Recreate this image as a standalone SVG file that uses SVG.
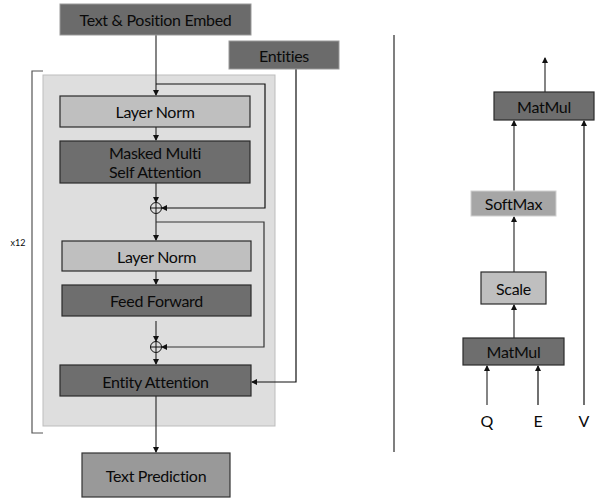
<svg xmlns="http://www.w3.org/2000/svg" width="595" height="499" viewBox="0 0 595 499">
<defs>
<marker id="ah" markerWidth="6" markerHeight="6" refX="5" refY="3" orient="auto" markerUnits="userSpaceOnUse">
<path d="M0,0 L6,3 L0,6 Z" fill="#111"/>
</marker>
<style>
text{font-family:Lato,"Open Sans","Liberation Sans",sans-serif;fill:#0a0a0a;text-anchor:middle;dominant-baseline:central}
.t{font-size:16px;letter-spacing:-0.3px}
.dark{fill:#6e6e6e;stroke:#2a2a2a;stroke-width:1.2}
.light{fill:#bfbfbf;stroke:#2a2a2a;stroke-width:1.2}
.edge{fill:none;stroke:#333;stroke-width:1.2}
.k{fill:none;stroke:#111;stroke-width:1.2}
</style>
</defs>
<rect x="0" y="0" width="595" height="499" fill="#fff"/>
<g id="panel">
<rect x="43" y="75" width="232" height="351" fill="#dedede" stroke="#bdbdbd" stroke-width="1"/>
</g>
<g id="bracket">
<path d="M43,71 H32 V433 H43" fill="none" stroke="#555" stroke-width="1.2"/>
<text x="18" y="242" style="font-size:9px">x12</text>
</g>
<g id="divider">
<line x1="394" y1="35" x2="394" y2="452" stroke="#555" stroke-width="1.5"/>
</g>
<g id="connectors">
<line class="edge" x1="156" y1="35" x2="156" y2="95" marker-end="url(#ah)"/>
<line class="edge" x1="156" y1="127" x2="156" y2="140" marker-end="url(#ah)"/>
<line class="edge" x1="156" y1="183" x2="156" y2="202" marker-end="url(#ah)"/>
<polyline class="k" points="156,84 265,84 265,208 162,208" marker-end="url(#ah)"/>
<line class="edge" x1="156" y1="214" x2="156" y2="240" marker-end="url(#ah)"/>
<polyline class="edge" points="156,222 264,222 264,347 162,347" marker-end="url(#ah)"/>
<line class="edge" x1="156" y1="271" x2="156" y2="284" marker-end="url(#ah)"/>
<line class="edge" x1="156" y1="321" x2="156" y2="341" marker-end="url(#ah)"/>
<line class="edge" x1="156" y1="353" x2="156" y2="364" marker-end="url(#ah)"/>
<polyline class="k" points="296,69 296,382 252,382" marker-end="url(#ah)"/>
<line class="edge" x1="156" y1="396" x2="156" y2="452" marker-end="url(#ah)"/>
<line class="edge" x1="545" y1="92" x2="545" y2="58" marker-end="url(#ah)"/>
<line class="edge" x1="514" y1="191" x2="514" y2="121" marker-end="url(#ah)"/>
<line class="k" x1="584" y1="405" x2="584" y2="121" marker-end="url(#ah)"/>
<line class="edge" x1="514" y1="272" x2="514" y2="217" marker-end="url(#ah)"/>
<line class="edge" x1="514" y1="338" x2="514" y2="305" marker-end="url(#ah)"/>
<line class="edge" x1="487" y1="405" x2="487" y2="366" marker-end="url(#ah)"/>
<line class="k" x1="538" y1="405" x2="538" y2="366" marker-end="url(#ah)"/>
</g>
<g id="embed">
<rect x="60" y="4" width="191" height="31" fill="#6b6b6b" stroke="#999" stroke-width="1"/>
<text class="t" x="155.5" y="19.5">Text &amp; Position Embed</text>
</g>
<g id="entities">
<rect x="229" y="41" width="110" height="28" fill="#6b6b6b" stroke="#999" stroke-width="1"/>
<text class="t" x="284" y="55">Entities</text>
</g>
<g id="layernorm1">
<rect class="light" x="60" y="96" width="190" height="31"/>
<text class="t" x="155" y="111.5">Layer Norm</text>
</g>
<g id="mmsa">
<rect class="dark" x="60" y="141" width="190" height="42"/>
<text class="t" x="155" y="152">Masked Multi</text>
<text class="t" x="155" y="171">Self Attention</text>
</g>
<g id="add1">
<circle cx="156" cy="208" r="5.5" fill="none" stroke="#111" stroke-width="1"/>
<path d="M150.5,208 H161.5 M156,202.5 V213.5" stroke="#111" stroke-width="1"/>
</g>
<g id="layernorm2">
<rect class="light" x="62" y="241" width="189" height="30"/>
<text class="t" x="156.5" y="256">Layer Norm</text>
</g>
<g id="ff">
<rect class="dark" x="62" y="285" width="189" height="31"/>
<text class="t" x="156.5" y="300.5">Feed Forward</text>
</g>
<g id="add2">
<circle cx="156" cy="347" r="5.5" fill="none" stroke="#111" stroke-width="1"/>
<path d="M150.5,347 H161.5 M156,341.5 V352.5" stroke="#111" stroke-width="1"/>
</g>
<g id="entityattn">
<rect class="dark" x="60" y="365" width="191" height="31"/>
<text class="t" x="155.5" y="381">Entity Attention</text>
</g>
<g id="textpred">
<rect x="82" y="453" width="148" height="44" fill="#999" stroke="#333" stroke-width="1.2"/>
<text class="t" x="156" y="475">Text Prediction</text>
</g>
<g id="matmul_top">
<rect class="dark" x="494" y="92" width="100" height="28"/>
<text class="t" x="544" y="106">MatMul</text>
</g>
<g id="softmax">
<rect x="471" y="191" width="85" height="25" fill="#a6a6a6" stroke="#d0d0d0" stroke-width="1"/>
<text class="t" x="513.5" y="203.5">SoftMax</text>
</g>
<g id="scale">
<rect class="light" x="481" y="272" width="65" height="32"/>
<text class="t" x="513.5" y="288">Scale</text>
</g>
<g id="matmul_bottom">
<rect class="dark" x="463" y="338" width="101" height="27"/>
<text class="t" x="513.5" y="351.5">MatMul</text>
</g>
<g id="labels">
<text x="487" y="420" style="font-size:16px">Q</text>
<text x="538" y="420" style="font-size:16px">E</text>
<text x="584" y="420" style="font-size:16px">V</text>
</g>
</svg>
